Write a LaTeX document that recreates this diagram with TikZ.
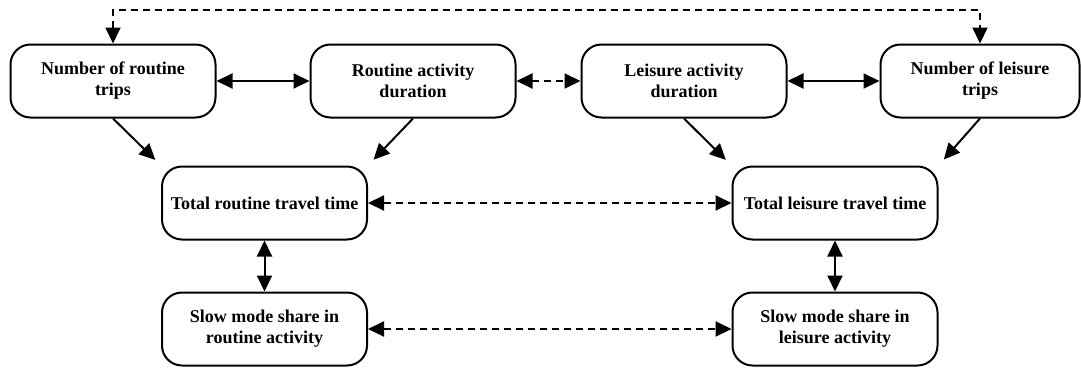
\documentclass[tikz,border=0pt]{standalone}
\usepackage{fontspec}
\setmainfont{Liberation Serif}
\usetikzlibrary{arrows.meta}

\begin{document}
\begin{tikzpicture}[x=1pt,y=-1pt,
    factor/.style={draw,line width=2pt,rounded corners=20pt,align=center,
      minimum width=205pt,minimum height=73pt,inner sep=2pt,
      font=\fontsize{18}{21}\selectfont\bfseries},
    link/.style={line width=2pt,{Triangle[length=16pt,width=15pt]}-{Triangle[length=16pt,width=15pt]}},
    feed/.style={line width=2pt,-{Triangle[length=16pt,width=15pt]},shorten >=8pt},
    weak/.style={link,dash pattern=on 7pt off 5pt}]
    \useasboundingbox (0,0) rectangle (1081,367);
    \node[factor] (nrt) at (113,81) {Number of routine\\trips};
    \node[factor] (rad) at (413,81) {Routine activity\\duration};
    \node[factor] (lad) at (684,81) {Leisure activity\\duration};
    \node[factor,minimum width=199pt] (nlt) at (980,81) {Number of leisure\\trips};
    \node[factor] (trt) at (264.5,203) {Total routine travel time};
    \node[factor] (tlt) at (835,203) {Total leisure travel time};
    \node[factor] (srt) at (264.5,329) {Slow mode share in\\routine activity};
    \node[factor] (slt) at (835,329) {Slow mode share in\\leisure activity};
    \coordinate (top) at (113,10);
    \draw[link] (nrt) -- (rad);
    \draw[weak] (rad) -- (lad);
    \draw[link] (lad) -- (nlt);
    \draw[weak] (nrt.north) |- (top) -| (nlt.north);
    \draw[feed] (nrt.south) -- (trt.north west);
    \draw[feed] (rad.south) -- (trt.north east);
    \draw[feed] (lad.south) -- (tlt.north west);
    \draw[feed] (nlt.south) -- (tlt.north east);
    \draw[weak] (trt) -- (tlt);
    \draw[weak] (srt) -- (slt);
    \draw[link] (trt) -- (srt);
    \draw[link] (tlt) -- (slt);
\end{tikzpicture}
\end{document}
